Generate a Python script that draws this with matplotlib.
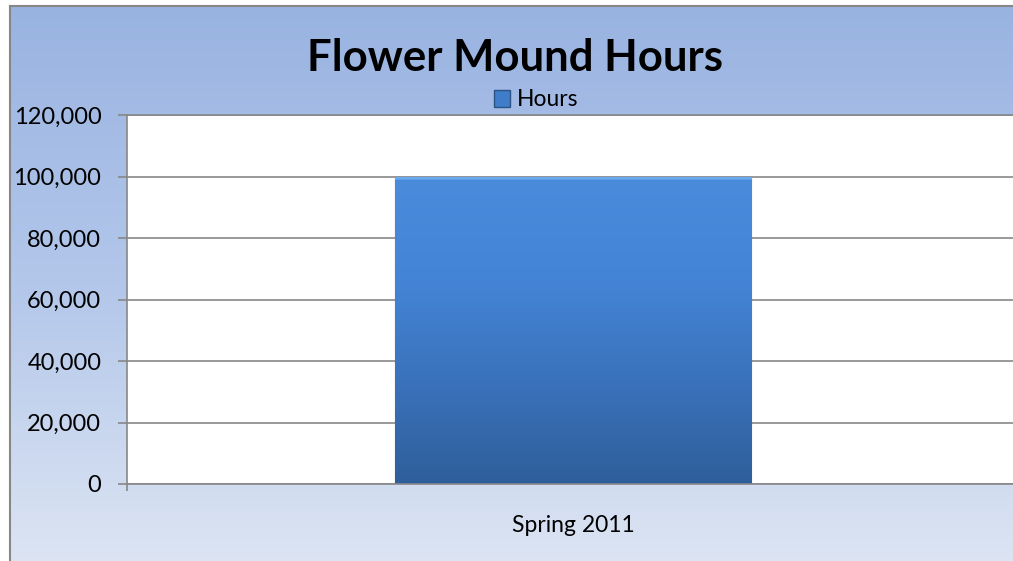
import numpy as np
import matplotlib.pyplot as plt
from matplotlib.patches import Patch
from matplotlib.colors import LinearSegmentedColormap
from matplotlib.ticker import FuncFormatter

plt.rcParams['font.family'] = ['Lato', 'DejaVu Sans']

categories = ['Spring 2011']
hours = [100000]
yticks = [0, 20000, 40000, 60000, 80000, 100000, 120000]

W, H = 1013, 561
GRAY = '#878787'
fig = plt.figure(figsize=(W / 100, H / 100), dpi=100)

# chart area background with vertical gradient and border
bg = fig.add_axes([10 / W, -0.01, 1.0, (H - 6) / H + 0.01], zorder=-10)
bgcmap = LinearSegmentedColormap.from_list('bg', ['#99b3e1', '#b3c7ea', '#dde5f3'])
grad = np.linspace(0, 1, 256).reshape(-1, 1)
bg.imshow(grad, cmap=bgcmap, aspect='auto', extent=[0, 1, 0, 1], origin='upper')
bg.set_xlim(0, 1)
bg.set_ylim(0, 1)
bg.set_xticks([])
bg.set_yticks([])
for side in ['right', 'bottom']:
    bg.spines[side].set_visible(False)
for side in ['left', 'top']:
    bg.spines[side].set_color(GRAY)
    bg.spines[side].set_linewidth(1.5)

# plot area
ax = fig.add_axes([127 / W, (H - 484) / H, (1019 - 127) / W, (484 - 115) / H])
ax.set_facecolor('white')
x = np.arange(len(categories))
ax.set_xlim(-0.5, len(categories) - 0.5)
ax.set_ylim(0, 120000)

bars = ax.bar(x, hours, width=0.4, color='#3f7cc9', edgecolor='#2b5485',
              linewidth=0.8, zorder=2)
barcmap = LinearSegmentedColormap.from_list(
    'bar', ['#6aaaf0', '#4a8bdc', '#4484d6', '#3a72bb', '#2f5f9b'])
for b in bars:
    x0, y0 = b.get_x(), b.get_y()
    x1, y1 = x0 + b.get_width(), y0 + b.get_height()
    g = np.concatenate([np.zeros(3), np.linspace(0.25, 1, 253)]).reshape(-1, 1)
    im = ax.imshow(g, cmap=barcmap, aspect='auto', extent=[x0, x1, y0, y1],
                   origin='upper', zorder=2.5)
    im.set_clip_path(b)

ax.set_yticks(yticks)
ax.yaxis.set_major_formatter(FuncFormatter(lambda v, p: f'{int(v):,}'))
ax.yaxis.grid(True, color=GRAY, lw=1.2, zorder=0)
ax.set_axisbelow(True)
ax.tick_params(axis='y', direction='out', length=6.5, color=GRAY, width=1.2,
               labelsize=17, pad=12, labelcolor='black')

ax.set_xticks([-0.5, 0.5])
ax.set_xticklabels([])
ax.set_xticks(x, minor=True)
ax.set_xticklabels(categories, minor=True)
ax.tick_params(axis='x', which='major', direction='out', length=5, color=GRAY, width=1.2)
ax.tick_params(axis='x', which='minor', length=0, labelsize=16.5, pad=22)

for side in ['left', 'bottom', 'top', 'right']:
    ax.spines[side].set_color(GRAY)
    ax.spines[side].set_linewidth(1.2)

fig.text(515 / W, 1 - 58 / H, 'Flower Mound Hours', ha='center', va='center',
         fontsize=31.5, fontweight='bold')

handle = Patch(facecolor='#3f7cc9', edgecolor='#2b5485')
fig.legend([handle], ['Hours'], loc='center', bbox_to_anchor=(536 / W, 1 - 100 / H),
           frameon=False, fontsize=16.5, handlelength=0.7, handleheight=0.7,
           handletextpad=0.3, borderaxespad=0)

fig.savefig('out.png', dpi=100)
